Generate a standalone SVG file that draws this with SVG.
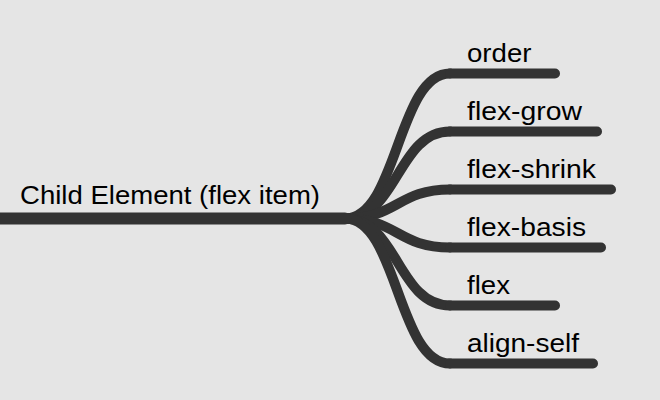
<svg xmlns="http://www.w3.org/2000/svg" width="660" height="400" viewBox="0 0 660 400">
<style>
.bg{fill:#e5e5e5}
.link{fill:none;stroke:#333333;stroke-width:10;stroke-linecap:round}
.line{fill:none;stroke:#333333;stroke-width:10;stroke-linecap:round}
.root-line{fill:none;stroke:#333333;stroke-width:12;stroke-linecap:round}
text{font-family:"Liberation Sans",Arial,Helvetica,sans-serif;font-size:25.5px;fill:#000000}
</style>
<rect class="bg" x="0" y="0" width="660" height="400"/>
<g id="connectors">
<path class="link" d="M345,218.5 C397.5,218.5 397.5,73.5 450,73.5"/>
<path class="link" d="M345,218.5 C397.5,218.5 397.5,131.5 450,131.5"/>
<path class="link" d="M345,218.5 C397.5,218.5 397.5,189.5 450,189.5"/>
<path class="link" d="M345,218.5 C397.5,218.5 397.5,247.5 450,247.5"/>
<path class="link" d="M345,218.5 C397.5,218.5 397.5,305.5 450,305.5"/>
<path class="link" d="M345,218.5 C397.5,218.5 397.5,363.5 450,363.5"/>
</g>
<g id="node-root">
<path class="root-line" d="M-10,218.5 H345"/>
<text x="20" y="204.3" textLength="300" lengthAdjust="spacingAndGlyphs">Child Element (flex item)</text>
</g>
<g id="node-order">
<path class="line" d="M450,73.5 H555"/>
<text x="467" y="62" textLength="64.5" lengthAdjust="spacingAndGlyphs">order</text>
</g>
<g id="node-flex-grow">
<path class="line" d="M450,131.5 H597"/>
<text x="467" y="120" textLength="115" lengthAdjust="spacingAndGlyphs">flex-grow</text>
</g>
<g id="node-flex-shrink">
<path class="line" d="M450,189.5 H611"/>
<text x="467" y="178" textLength="129" lengthAdjust="spacingAndGlyphs">flex-shrink</text>
</g>
<g id="node-flex-basis">
<path class="line" d="M450,247.5 H601"/>
<text x="467" y="236" textLength="119" lengthAdjust="spacingAndGlyphs">flex-basis</text>
</g>
<g id="node-flex">
<path class="line" d="M450,305.5 H555"/>
<text x="467" y="294" textLength="43" lengthAdjust="spacingAndGlyphs">flex</text>
</g>
<g id="node-align-self">
<path class="line" d="M450,363.5 H593"/>
<text x="467" y="352" textLength="112" lengthAdjust="spacingAndGlyphs">align-self</text>
</g>
</svg>
